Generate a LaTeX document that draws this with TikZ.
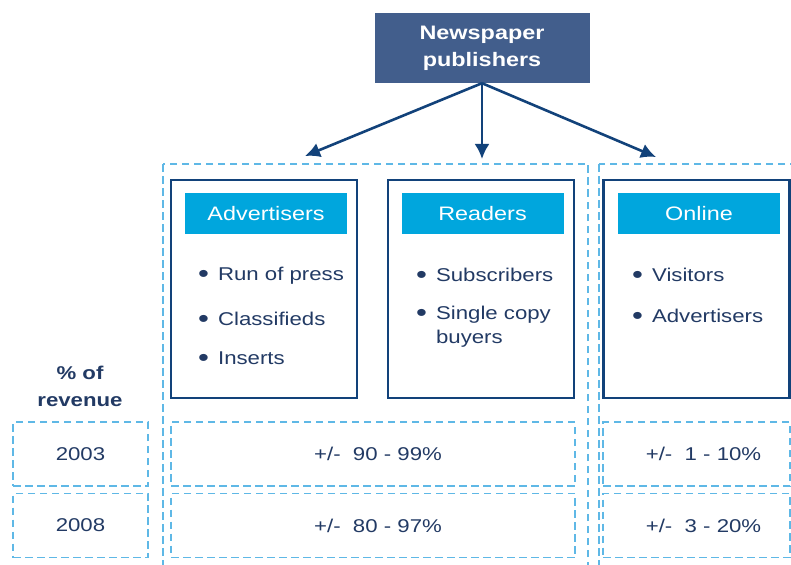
\documentclass[tikz,border=0pt]{standalone}
\usepackage{graphicx}
\usepackage{fontspec}
\setmainfont{Liberation Sans}[FakeStretch=1.2]
\usetikzlibrary{arrows.meta}

\definecolor{pubblue}{RGB}{66,94,140}
\definecolor{navy}{RGB}{18,66,122}
\definecolor{inktext}{RGB}{34,58,100}
\definecolor{headcyan}{RGB}{0,166,221}
\definecolor{dashblue}{RGB}{95,184,230}

\tikzset{
  pubbox/.style={fill=pubblue, text=white, font=\fontsize{19.5}{27}\selectfont\bfseries,
    align=center, minimum width=215pt, minimum height=70pt, inner sep=0pt},
  panel/.style={draw=navy, line width=2.8pt, minimum width=186pt, minimum height=218pt, inner sep=0pt},
  headbox/.style={fill=headcyan, text=white, font=\fontsize{19.5}{24}\selectfont,
    minimum width=162pt, minimum height=41pt, inner sep=0pt},
  item/.style={anchor=west, text=inktext, font=\fontsize{18.5}{24}\selectfont, align=left, inner sep=0pt},
  dashbox/.style={draw=dashblue, line width=1.7pt, dash pattern=on 7.5pt off 4.5pt,
    text=inktext, font=\fontsize{18.5}{24}\selectfont, inner sep=0pt},
  flow/.style={draw=navy, line width=2.6pt, -{Latex[length=15pt,width=15pt]}}
}
\newcommand{\bul}{\raisebox{-1.8pt}{\scalebox{1.4}{\textbullet}}\hspace{9pt}}

\begin{document}
\begin{tikzpicture}[x=1pt, y=-1pt]
    \useasboundingbox (0,0) rectangle (791,564);

    \node[pubbox] (pub) at (482,48) {Newspaper\\publishers};

    \coordinate (toAdv) at (305,156);
    \coordinate (toRead) at (482,159);
    \coordinate (toOnl) at (656,157);
    \draw[flow] (pub.south) -- (toAdv);
    \draw[flow] (pub.south) -- (toRead);
    \draw[flow] (pub.south) -- (toOnl);

    % groups
    \draw[dashbox] (163,164) rectangle (588,580);
    \draw[dashbox] (599,164) rectangle (810,580);

    \node[panel] (adv) at (264,289) {};
    \node[panel] (read) at (481,289) {};
    \node[panel] (onl) at (696.5,289) {};

    \node[headbox] (advHead) at (266,213.5) {Advertisers};
    \node[headbox] (readHead) at (482.5,213.5) {Readers};
    \node[headbox] (onlHead) at (699,213.5) {Online};

    \node[item] (adv1) at (198,276) {\bul Run of press};
    \node[item] (adv2) at (198,320) {\bul Classifieds};
    \node[item] (adv3) at (198,359) {\bul Inserts};

    \node[item] (read1) at (416,276) {\bul Subscribers};
    \node[item, anchor=north west] (read2) at (416,306) {\bul Single copy\\\hphantom{\bul}buyers};

    \node[item] (onl1) at (632,276) {\bul Visitors};
    \node[item] (onl2) at (632,317) {\bul Advertisers};

    \node[text=inktext, font=\fontsize{18.5}{27}\selectfont\bfseries, align=center] (share) at (80,386) {\% of\\revenue};

    % rows
    \node[dashbox, minimum width=135pt, minimum height=64pt] (y03) at (80.5,454) {2003};
    \node[dashbox, minimum width=135pt, minimum height=64pt] (y08) at (80.5,525.5) {2008};
    \node[dashbox, minimum width=404pt, minimum height=64pt] (mid03) at (373,454) {\hspace*{10pt}+/-\ \ 90 - 99\%};
    \node[dashbox, minimum width=404pt, minimum height=64pt] (mid08) at (373,525.5) {\hspace*{10pt}+/-\ \ 80 - 97\%};
    \node[dashbox, minimum width=187pt, minimum height=64pt] (onl03) at (696.5,454) {\hspace*{14pt}+/-\ \ 1 - 10\%};
    \node[dashbox, minimum width=187pt, minimum height=64pt] (onl08) at (696.5,525.5) {\hspace*{14pt}+/-\ \ 3 - 20\%};
    %\draw[dashbox] (13,422) rectangle (148,486);
\end{tikzpicture}
\end{document}
